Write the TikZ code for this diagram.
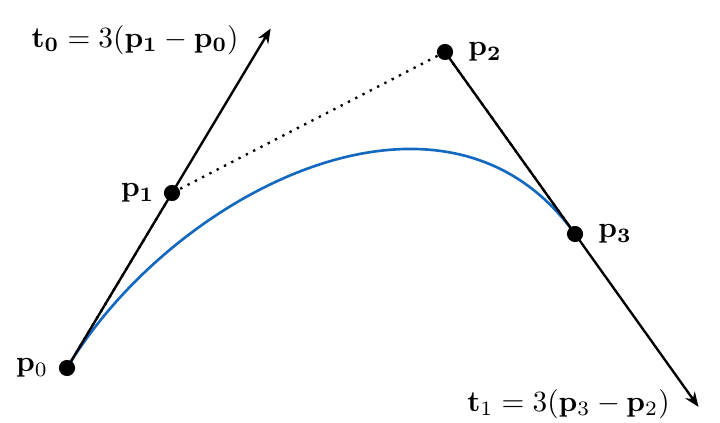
\documentclass[tikz,border=0pt]{standalone}
\usepackage{tikz}
\usetikzlibrary{arrows.meta, positioning, calc, backgrounds}
\usepackage{amsmath}
\definecolor{curveBlue}{HTML}{1369C0}

\tikzset{
  ctrlpt/.style={circle, fill=black, inner sep=0pt, minimum size=5.5pt},
  ctrlline/.style={dotted, line width=0.8pt},
  tanarrow/.style={line width=0.8pt, -{Stealth[length=5pt, width=4pt]}},
  bezcurve/.style={curveBlue, line width=0.9pt}
}

\begin{document}
\begin{tikzpicture}[x=0.012cm, y=-0.012cm, every node/.style={font=\normalsize}]
    \useasboundingbox (0,0) rectangle (720,423);
    % control points
    \foreach \i/\x/\y in {0/67/368, 1/172/193, 2/445/52, 3/575/234}{
      \node[ctrlpt] (p\i) at (\x,\y) {};
    }
    \coordinate (t0end) at ($(p0.center)!1.94!(p1.center)$);
    \coordinate (t1end) at ($(p2.center)!1.95!(p3.center)$);
    \begin{scope}[on background layer]
      \draw[ctrlline] (p0.center) -- (p1.center) -- (p2.center) -- (p3.center);
      \draw[bezcurve] (p0.center) .. controls (p1.center) and (p2.center) .. (p3.center);
      \draw[tanarrow] (p0.center) -- (t0end);
      \draw[tanarrow] (p2.center) -- (t1end);
    \end{scope}
    % labels
    \node[left=0pt of p0] (p0lab) {$\mathbf{p}_0$};
    \node[left=-0.5pt of p1] (p1lab) {$\mathbf{p_1}$};
    \node[right=1.5pt of p2] (p2lab) {$\mathbf{p_2}$};
    \node[right=1.5pt of p3] (p3lab) {$\mathbf{p_3}$};
    \node[anchor=east] (t0lab) at (249,40) {$\mathbf{t_0} = 3(\mathbf{p_1} - \mathbf{p_0})$};
    \node[anchor=east] (t1lab) at (680,404) {$\mathbf{t}_1 = 3(\mathbf{p}_3 - \mathbf{p}_2)$};
  \end{tikzpicture}
\end{document}
